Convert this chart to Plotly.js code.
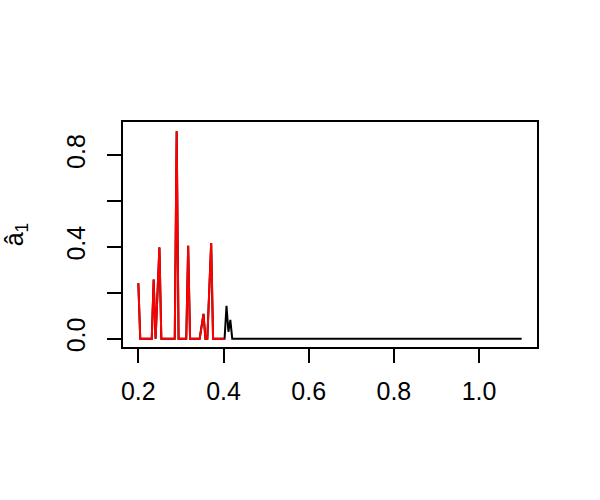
<!DOCTYPE html>
<html>
<head>
<meta charset="utf-8">
<script src="https://cdn.plot.ly/plotly-3.0.1.min.js"></script>
<style>html,body{margin:0;padding:0;background:#fff;}#chart{width:600px;height:500px;}</style>
</head>
<body>
<div id="chart"></div>
<script>
// Black series: full estimate over 0.2 .. 1.1 (breakpoints)
var blackX = [0.2, 0.2045, 0.2315, 0.236, 0.2405, 0.245, 0.2495, 0.254, 0.2855, 0.29, 0.2945, 0.3125, 0.317, 0.3215, 0.344, 0.3485, 0.353, 0.3575, 0.362, 0.3665, 0.371, 0.3755, 0.4025, 0.407, 0.4115, 0.416, 0.4205, 1.1];
var blackY = [0.242, 0, 0, 0.258, 0, 0.2, 0.398, 0, 0, 0.905, 0, 0, 0.405, 0, 0, 0.054, 0.108, 0, 0, 0.21, 0.417, 0, 0, 0.143, 0.03, 0.082, 0, 0];
// Red series: second estimate over 0.2 .. 0.4
var redX = [0.2, 0.2045, 0.2315, 0.236, 0.2405, 0.245, 0.2495, 0.254, 0.2855, 0.29, 0.2945, 0.3125, 0.317, 0.3215, 0.344, 0.3485, 0.353, 0.3575, 0.362, 0.3665, 0.371, 0.3755, 0.4025];
var redY = [0.242, 0, 0, 0.258, 0, 0.2, 0.398, 0, 0, 0.905, 0, 0, 0.405, 0, 0, 0.054, 0.108, 0, 0, 0.21, 0.417, 0, 0];

var xTickVals = [0.2, 0.4, 0.6, 0.8, 1.0];
var xTickText = ["0.2", "0.4", "0.6", "0.8", "1.0"];
var yTickVals = [0, 0.4, 0.8];
var yTickText = ["0.0", "0.4", "0.8"];
var yMinorTickVals = [0.2, 0.6];
var yTitle = "â<sub>1</sub>";

var font = {family: "Liberation Sans, Arial, Helvetica, sans-serif", size: 25, color: "#000"};

var traces = [
  {x: blackX, y: blackY, type: "scatter", mode: "lines", line: {color: "#000000", width: 2}, hoverinfo: "skip"},
  {x: redX, y: redY, type: "scatter", mode: "lines", line: {color: "#FF0000", width: 2}, hoverinfo: "skip"}
];

var layout = {
  width: 600, height: 500,
  margin: {l: 123, r: 63, t: 122, b: 153},
  paper_bgcolor: "#fff", plot_bgcolor: "#fff",
  showlegend: false,
  font: font,
  xaxis: {
    range: [0.164, 1.136], autorange: false,
    tickvals: xTickVals, ticktext: xTickText,
    ticks: "outside", ticklen: 14, tickwidth: 2, tickcolor: "#000",
    showline: true, linecolor: "#000", linewidth: 2, mirror: true,
    showgrid: false, zeroline: false,
    tickfont: font, ticklabelstandoff: 7
  },
  yaxis: {
    range: [-0.0364, 0.945], autorange: false,
    tickvals: yTickVals, ticktext: yTickText,
    ticks: "outside", ticklen: 14, tickwidth: 2, tickcolor: "#000",
    minor: {tickvals: yMinorTickVals, ticks: "outside", ticklen: 14, tickwidth: 2, tickcolor: "#000", showgrid: false},
    showline: true, linecolor: "#000", linewidth: 2, mirror: true,
    showgrid: false, zeroline: false,
    tickangle: -90,
    tickfont: font, ticklabelstandoff: 12,
    title: {text: yTitle, font: font, standoff: 38}
  }
};

Plotly.newPlot("chart", traces, layout, {staticPlot: true, displayModeBar: false});
</script>
</body>
</html>
